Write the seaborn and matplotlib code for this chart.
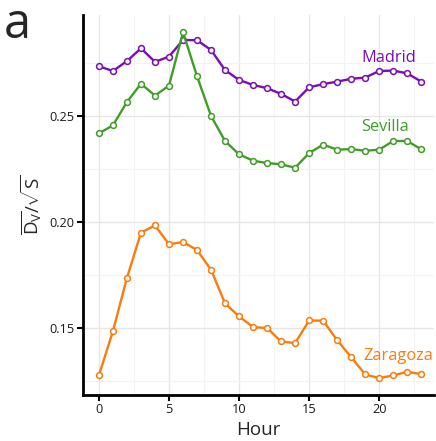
import numpy as np
import pandas as pd
import matplotlib
matplotlib.use("Agg")
import matplotlib.pyplot as plt
import seaborn as sns

hours = list(range(24))
madrid = [0.2734, 0.2712, 0.2759, 0.2819, 0.2755, 0.2780, 0.2858, 0.2857,
          0.2811, 0.2716, 0.2670, 0.2646, 0.2631, 0.2604, 0.2568, 0.2635,
          0.2650, 0.2662, 0.2675, 0.2681, 0.2712, 0.2714, 0.2701, 0.2662]
sevilla = [0.2418, 0.2456, 0.2566, 0.2652, 0.2596, 0.2643, 0.2895, 0.2687,
           0.2500, 0.2382, 0.2319, 0.2289, 0.2278, 0.2272, 0.2256, 0.2325,
           0.2365, 0.2341, 0.2344, 0.2336, 0.2341, 0.2382, 0.2382, 0.2343]
zaragoza = [0.1278, 0.1486, 0.1737, 0.1950, 0.1984, 0.1895, 0.1906, 0.1868,
            0.1775, 0.1616, 0.1555, 0.1505, 0.1500, 0.1437, 0.1429, 0.1536,
            0.1535, 0.1443, 0.1363, 0.1282, 0.1264, 0.1277, 0.1294, 0.1283]
cities = ["Madrid", "Sevilla", "Zaragoza"]
colors = {"Madrid": "#7a0db3", "Sevilla": "#3f9e27", "Zaragoza": "#fb7b0b"}
label_pos = {"Madrid": (20.7, 0.2774), "Sevilla": (20.4, 0.2448), "Zaragoza": (21.4, 0.1368)}

df = pd.DataFrame({
    "Hour": hours * 3,
    "value": madrid + sevilla + zaragoza,
    "city": sum([[c] * 24 for c in cities], []),
})

sns.set_theme(style="whitegrid")
plt.rcParams["font.family"] = ["Open Sans", "DejaVu Sans"]
plt.rcParams["mathtext.fontset"] = "custom"
plt.rcParams["mathtext.rm"] = "Open Sans"
plt.rcParams["mathtext.it"] = "Open Sans"

fig = plt.figure(figsize=(4.36, 4.41), dpi=100)
ax = fig.add_axes([0.19, 0.104, 0.805, 0.862])

for c in cities:
    sns.lineplot(data=df[df.city == c], x="Hour", y="value", ax=ax,
                 color=colors[c], linewidth=1.7, marker="o", markersize=4.2,
                 markerfacecolor="white", markeredgecolor=colors[c],
                 markeredgewidth=1.1, legend=False)
    lx, ly = label_pos[c]
    ax.text(lx, ly, c, color=colors[c], fontsize=11.8, ha="center", va="center")

ax.set_xlim(-1.15, 23.9)
ax.set_ylim(0.1184, 0.2976)
ax.set_xticks([0, 5, 10, 15, 20])
ax.set_yticks([0.15, 0.20, 0.25])
ax.set_yticklabels(["0.15", "0.20", "0.25"])
ax.set_xticks(np.arange(2.5, 24, 5), minor=True)
ax.set_yticks([0.125, 0.175, 0.225, 0.275], minor=True)
ax.grid(which="major", color="#e6e6e6", linewidth=1.0)
ax.grid(which="minor", color="#f3f3f3", linewidth=0.8)
ax.tick_params(which="major", direction="out", length=4, width=1.5,
               color="black", labelsize=9.2, labelcolor="#1a1a1a", pad=2,
               bottom=True, left=True)
ax.tick_params(which="minor", length=0)
for s in ["top", "right"]:
    ax.spines[s].set_visible(False)
for s in ["left", "bottom"]:
    ax.spines[s].set_color("black")
    ax.spines[s].set_linewidth(2)
ax.set_facecolor("white")

ax.set_xlabel("Hour", fontsize=13.5, labelpad=3)
ax.set_ylabel(r"$\overline{\mathrm{D_V}}/\sqrt{\mathrm{S}}$", fontsize=13.5, labelpad=4)
fig.text(0.008, 1.0, "a", fontsize=35, ha="left", va="top")

fig.savefig("out.png", dpi=100)
